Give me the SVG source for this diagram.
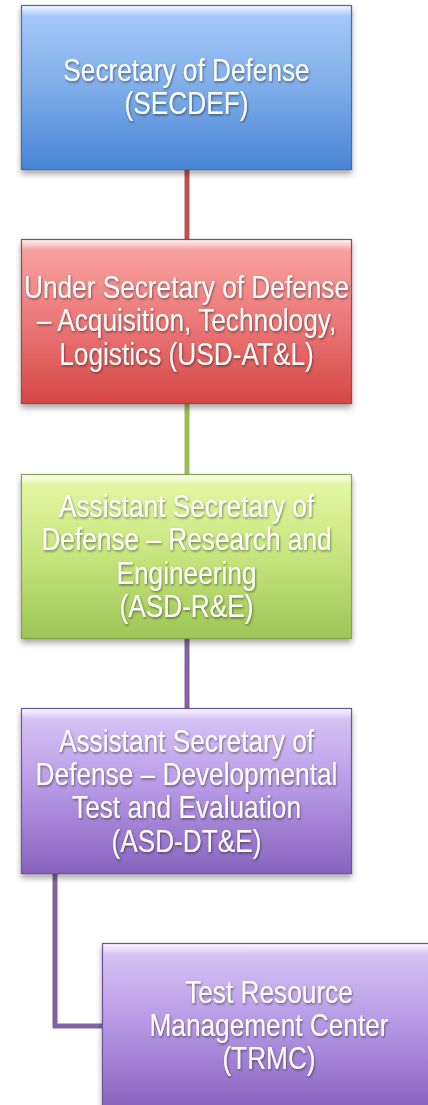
<svg xmlns="http://www.w3.org/2000/svg" width="428" height="1105" viewBox="0 0 428 1105">
  <style>
    .lbl { font-family: "Liberation Sans", Arial, sans-serif; font-size: 32px; fill: #ffffff; text-anchor: middle; filter: url(#txtShadow); }
    .edge { fill: none; stroke-width: 1.2; }
    .conn { fill: none; stroke-width: 5; }
  </style>
  <defs>
    <filter id="boxShadow" x="-10%" y="-10%" width="120%" height="125%">
      <feDropShadow dx="0" dy="4" stdDeviation="3" flood-color="#000" flood-opacity="0.35"/>
    </filter>
    <filter id="txtShadow" x="-10%" y="-30%" width="120%" height="160%">
      <feDropShadow dx="1" dy="1.5" stdDeviation="1" flood-color="#000" flood-opacity="0.45"/>
    </filter>
    <linearGradient id="gBlue" x1="0" y1="0" x2="0" y2="1">
      <stop offset="0" stop-color="#a9cbfb"/>
      <stop offset="0.5" stop-color="#7fade9"/>
      <stop offset="1" stop-color="#4884d6"/>
    </linearGradient>
    <linearGradient id="gRed" x1="0" y1="0" x2="0" y2="1">
      <stop offset="0" stop-color="#faa7a6"/>
      <stop offset="0.5" stop-color="#eb7878"/>
      <stop offset="1" stop-color="#d64646"/>
    </linearGradient>
    <linearGradient id="gGreen" x1="0" y1="0" x2="0" y2="1">
      <stop offset="0" stop-color="#e8f8a8"/>
      <stop offset="0.5" stop-color="#c6e47c"/>
      <stop offset="1" stop-color="#9cc556"/>
    </linearGradient>
    <linearGradient id="gPurple" x1="0" y1="0" x2="0" y2="1">
      <stop offset="0" stop-color="#dac8f8"/>
      <stop offset="0.5" stop-color="#b597e4"/>
      <stop offset="1" stop-color="#8763bd"/>
    </linearGradient>
    <linearGradient id="gShine" x1="0" y1="0" x2="0" y2="1">
      <stop offset="0" stop-color="#ffffff" stop-opacity="0.85"/>
      <stop offset="1" stop-color="#ffffff" stop-opacity="0"/>
    </linearGradient>
  </defs>

  <!-- connectors -->
  <g id="connectors">
    <line class="conn" x1="187" y1="170" x2="187" y2="240" stroke="#c0504d"/>
    <line class="conn" x1="187" y1="404" x2="187" y2="475" stroke="#9bbb59"/>
    <line class="conn" x1="187" y1="639" x2="187" y2="709" stroke="#8064a2"/>
    <path class="conn" d="M55 874 V1026 H104" stroke="#8064a2"/>
  </g>

  <!-- SECDEF -->
  <g id="secdef">
    <rect x="21" y="5" width="331" height="165" fill="url(#gBlue)" filter="url(#boxShadow)"/>
    <rect x="22" y="6" width="329" height="10" fill="url(#gShine)"/>
    <rect class="edge" x="21.5" y="5.5" width="330" height="164" stroke="#3f6fae"/>
    <g transform="translate(186.5,0) scale(0.82,1)">
      <text class="lbl" x="0" y="81">Secretary of Defense</text>
      <text class="lbl" x="0" y="114">(SECDEF)</text>
    </g>
  </g>

  <!-- USD-AT&L -->
  <g id="usd-atl">
    <rect x="21" y="239" width="331" height="165" fill="url(#gRed)" filter="url(#boxShadow)"/>
    <rect x="22" y="240" width="329" height="10" fill="url(#gShine)"/>
    <rect class="edge" x="21.5" y="239.5" width="330" height="164" stroke="#a24545"/>
    <g transform="translate(186.5,0) scale(0.82,1)">
      <text class="lbl" x="0" y="298">Under Secretary of Defense</text>
      <text class="lbl" x="0" y="331.5">– Acquisition, Technology,</text>
      <text class="lbl" x="0" y="365">Logistics (USD-AT&amp;L)</text>
    </g>
  </g>

  <!-- ASD-R&E -->
  <g id="asd-re">
    <rect x="21" y="474" width="331" height="165" fill="url(#gGreen)" filter="url(#boxShadow)"/>
    <rect x="22" y="475" width="329" height="10" fill="url(#gShine)"/>
    <rect class="edge" x="21.5" y="474.5" width="330" height="164" stroke="#86a64e"/>
    <g transform="translate(186.5,0) scale(0.82,1)">
      <text class="lbl" x="0" y="517">Assistant Secretary of</text>
      <text class="lbl" x="0" y="550.3">Defense – Research and</text>
      <text class="lbl" x="0" y="583.6">Engineering</text>
      <text class="lbl" x="0" y="617">(ASD-R&amp;E)</text>
    </g>
  </g>

  <!-- ASD-DT&E -->
  <g id="asd-dte">
    <rect x="21" y="708" width="331" height="166" fill="url(#gPurple)" filter="url(#boxShadow)"/>
    <rect x="22" y="709" width="329" height="10" fill="url(#gShine)"/>
    <rect class="edge" x="21.5" y="708.5" width="330" height="165" stroke="#6e54a0"/>
    <g transform="translate(186.5,0) scale(0.82,1)">
      <text class="lbl" x="0" y="751.7">Assistant Secretary of</text>
      <text class="lbl" x="0" y="785">Defense – Developmental</text>
      <text class="lbl" x="0" y="818.3">Test and Evaluation</text>
      <text class="lbl" x="0" y="851.7">(ASD-DT&amp;E)</text>
    </g>
  </g>

  <!-- TRMC -->
  <g id="trmc">
    <rect x="102" y="943" width="331" height="166" fill="url(#gPurple)" filter="url(#boxShadow)"/>
    <rect x="103" y="944" width="329" height="10" fill="url(#gShine)"/>
    <rect class="edge" x="102.5" y="943.5" width="330" height="165" stroke="#6e54a0"/>
    <g transform="translate(269,0) scale(0.82,1)">
      <text class="lbl" x="0" y="1002.7">Test Resource</text>
      <text class="lbl" x="0" y="1036">Management Center</text>
      <text class="lbl" x="0" y="1069.5">(TRMC)</text>
    </g>
  </g>
</svg>
